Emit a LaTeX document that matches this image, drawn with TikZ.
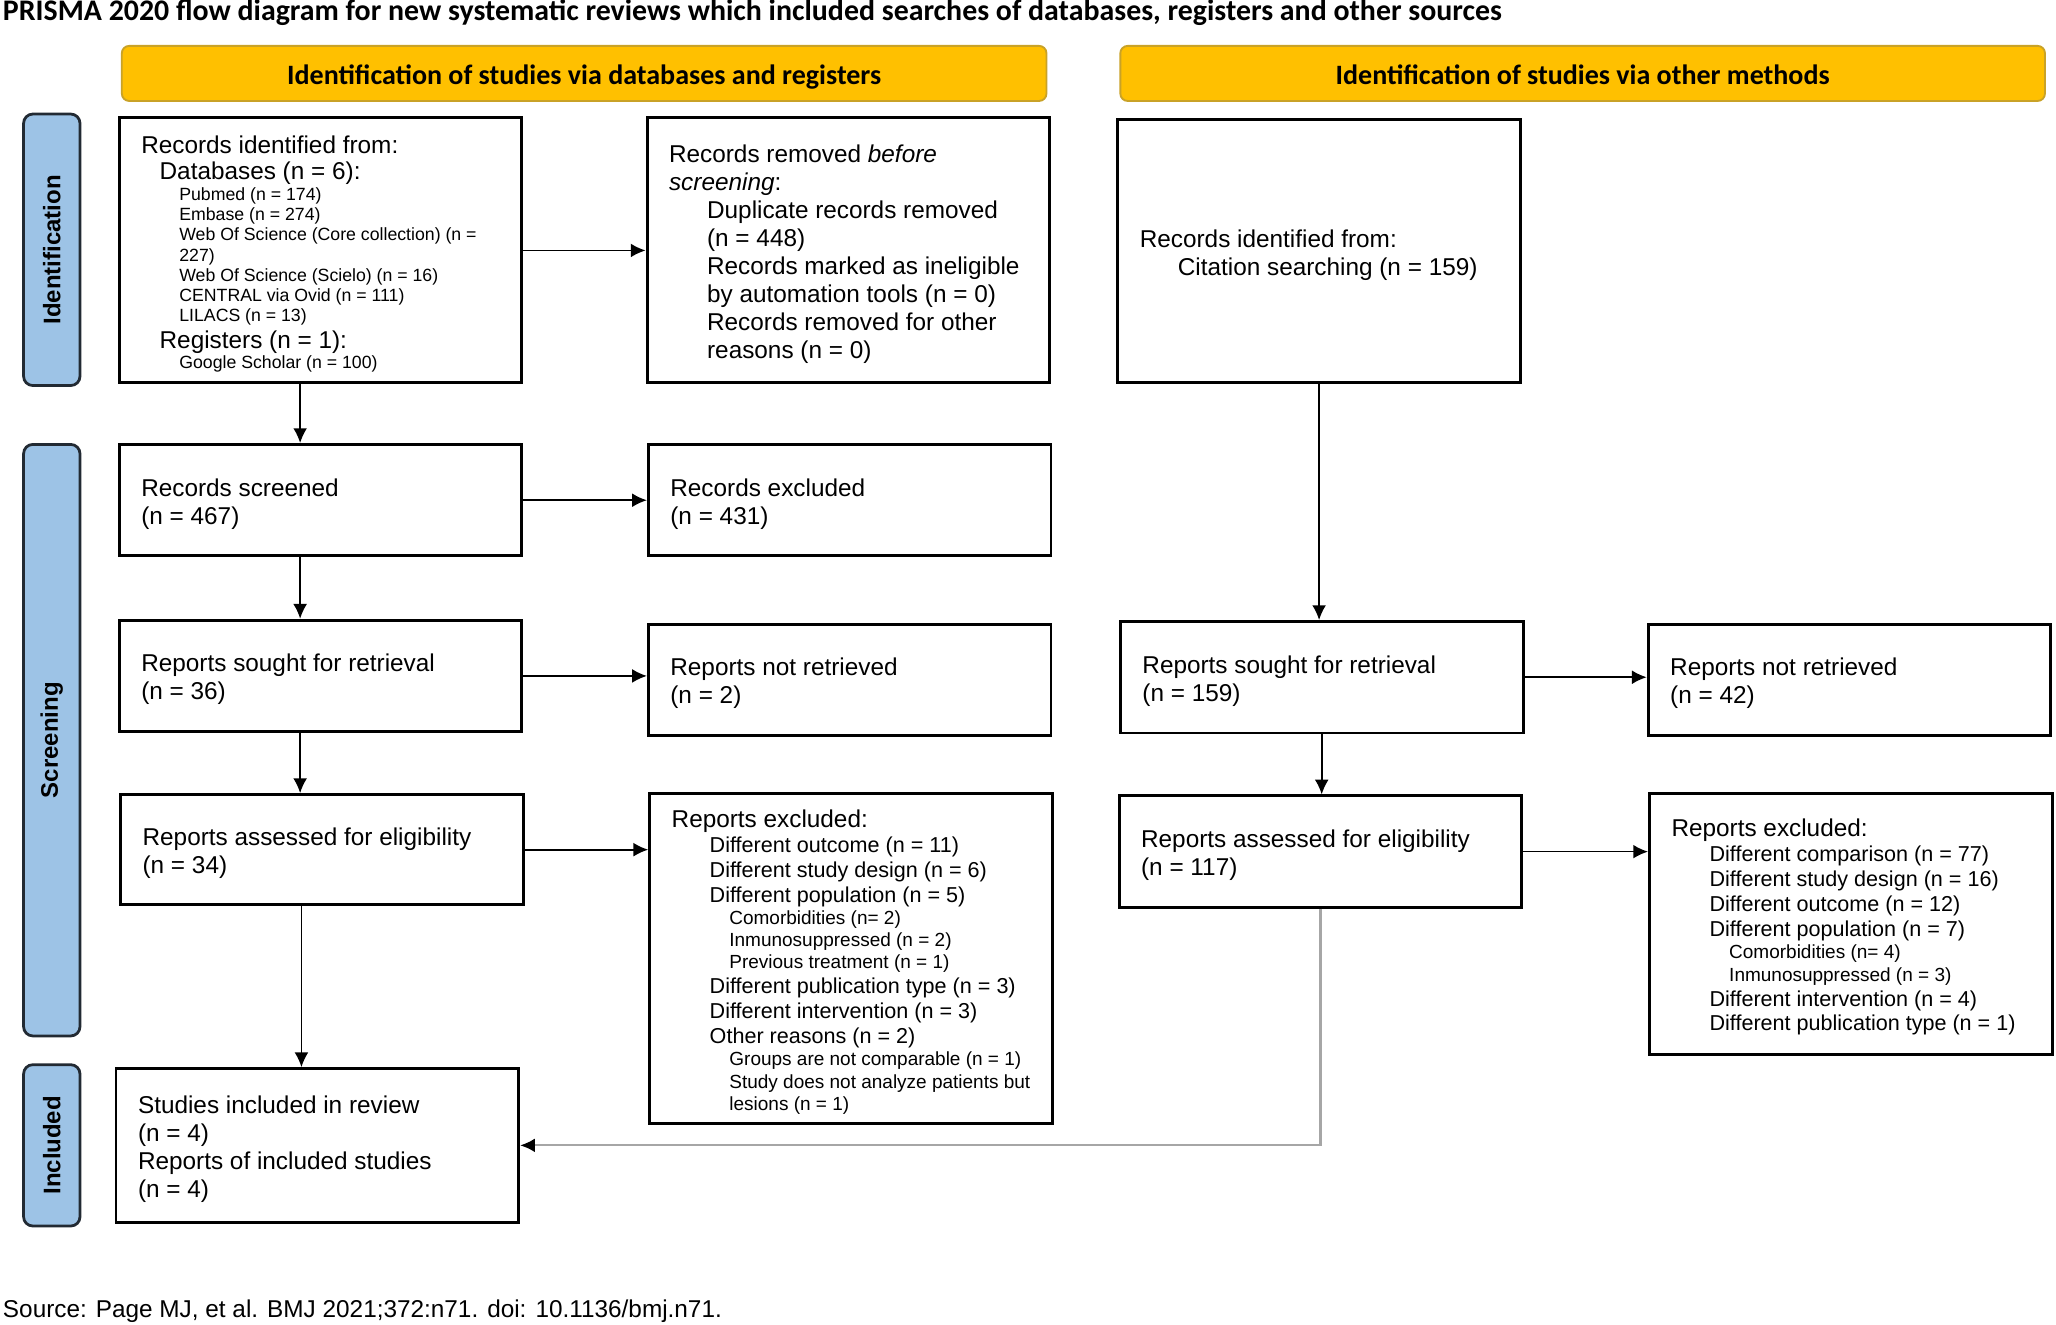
\documentclass[tikz,border=0pt]{standalone}
\usepackage{fontspec}
\setmainfont{Liberation Sans}
\newfontfamily\calibri{Carlito}
\usepackage{xcolor}
\usetikzlibrary{arrows.meta, calc, positioning}
\definecolor{headyellow}{HTML}{FFC000}
\definecolor{headedge}{HTML}{C9A227}
\definecolor{sideblue}{HTML}{9DC3E6}
\definecolor{sideedge}{HTML}{222A33}
\newcommand{\mainsz}{\fontsize{13.2}{15.2}\selectfont}
\newcommand{\itemsz}{\fontsize{11.7}{13.5}\selectfont}
\newcommand{\subsz}{\fontsize{10.3}{12.1}\selectfont}
\newcommand{\smallsz}{\fontsize{9.6}{11}\selectfont}

\begin{document}
\begin{tikzpicture}[x=0.025cm, y=-0.025cm]
				\tikzset{arrow/.style={-{Latex[length=8pt,width=7.5pt]}, line width=0.9pt}}
				\tikzset{box/.style={draw, line width=1.6pt, minimum width=7.675cm, text width=6.835cm, inner xsep=0.42cm, inner ysep=0pt, align=flush left, font=\mainsz, execute at begin node={\rule{0pt}{13.5pt}}}}
				\tikzset{head/.style={draw=headedge, fill=headyellow, line width=1pt, rounded corners=4pt, minimum width=17.625cm, minimum height=1.05cm, text height=14.5pt, text depth=3pt, font=\calibri\bfseries\fontsize{15.2}{17}\selectfont}}
				\tikzset{side/.style={draw=sideedge, fill=sideblue, line width=1.5pt, rounded corners=5pt, rotate=90, minimum height=1.075cm, font=\bfseries\fontsize{13}{15}\selectfont}}

				\useasboundingbox (0,0) rectangle (1568,1009.8);

				\node (title) [anchor=base west, inner sep=0pt, font=\calibri\bfseries\fontsize{16.2}{18}\selectfont] at (2,16) {PRISMA 2020 flow diagram for new systematic reviews which included searches of databases, registers and other sources};

				% column headers and phase bars
				\node (headDB) [head] at (445.5,56) {Identification of studies via databases and registers};
				\node (headOth) [head] at (1207,56) {Identification of studies via other methods};
				\node (sideId) [side, minimum width=5.175cm] at (39.5,190.5) {Identification};
				\node (sideScr) [side, minimum width=11.275cm] at (39.5,564.5) {Screening};
				\node (sideInc) [side, minimum width=3.075cm] at (39.5,873.5) {Included};

				% databases and registers
				\node (idRec) [box, minimum height=5.05cm] at (244.5,191) {\fontsize{13.2}{14.2}\selectfont Records identified from:\par
					{\leftskip=0.35cm Databases (n = 6):\par}
					{\smallsz\leftskip=0.725cm Pubmed (n = 174)\par Embase (n = 274)\par Web Of Science (Core collection) (n =\newline 227)\par Web Of Science (Scielo) (n = 16)\par CENTRAL via Ovid (n = 111)\par LILACS (n = 13)\par}
					{\leftskip=0.35cm Registers (n = 1):\par}
					{\smallsz\leftskip=0.725cm Google Scholar (n = 100)\par}};
				\node (idRem) [box, minimum height=5.05cm] at (647,191) {Records removed \textit{before}\newline \textit{screening}:\par
					{\leftskip=0.725cm Duplicate records removed\newline (n = 448)\newline Records marked as ineligible\newline by automation tools (n = 0)\newline Records removed for other\newline reasons (n = 0)\par}};
				\node (scr) [box, minimum height=2.125cm] at (244.5,381.5) {Records screened\newline (n = 467)};
				\node (scrEx) [box, minimum height=2.125cm] at (648,381.5) {Records excluded\newline (n = 431)};
				\node (sought) [box, minimum height=2.125cm] at (244.5,515.5) {Reports sought for retrieval\newline (n = 36)};
				\node (notRet) [box, minimum height=2.125cm] at (648,518.5) {Reports not retrieved\newline (n = 2)};
				\node (assess) [box, minimum height=2.1cm] at (245.5,648) {Reports assessed for eligibility\newline (n = 34)};
				\node (repEx) [box, minimum height=6.3cm] at (649,731) {Reports excluded:\par
					{\itemsz\leftskip=0.725cm Different outcome (n = 11)\par Different study design (n = 6)\par Different population (n = 5)\par}
					{\subsz\leftskip=1.1cm Comorbidities (n= 2)\par Inmunosuppressed (n = 2)\par Previous treatment (n = 1)\par}
					{\itemsz\leftskip=0.725cm Different publication type (n = 3)\par Different intervention (n = 3)\par Other reasons (n = 2)\par}
					{\subsz\leftskip=1.1cm Groups are not comparable (n = 1)\par Study does not analyze patients but\newline lesions (n = 1)\par}};
				\node (incl) [box, minimum height=2.925cm] at (242,873.5) {Studies included in review\newline (n = 4)\newline Reports of included studies\newline (n = 4)};

				% other methods
				\node (othRec) [box, minimum height=5.025cm] at (1006,191.5) {Records identified from:\par
					{\leftskip=0.725cm Citation searching (n = 159)\par}};
				\node (othSought) [box, minimum height=2.125cm] at (1008,516.5) {Reports sought for retrieval\newline (n = 159)};
				\node (othNotRet) [box, minimum height=2.125cm] at (1410.5,518.5) {Reports not retrieved\newline (n = 42)};
				\node (othAssess) [box, minimum height=2.125cm] at (1007,649.5) {Reports assessed for eligibility\newline (n = 117)};
				\node (othEx) [box, minimum height=4.975cm] at (1411.5,704.5) {Reports excluded:\par
					{\itemsz\leftskip=0.725cm Different comparison (n = 77)\par Different study design (n = 16)\par Different outcome (n = 12)\par Different population (n = 7)\par}
					{\subsz\leftskip=1.1cm Comorbidities (n= 4)\par Inmunosuppressed (n = 3)\par}
					{\itemsz\leftskip=0.725cm Different intervention (n = 4)\par Different publication type (n = 1)\par}};

				% connectors
				\draw[arrow] (idRec) -- (idRem);
				\draw[arrow] ([xshift=-0.39cm]idRec.south) -- ([xshift=-0.39cm]scr.north);
				\draw[arrow] (scr) -- (scrEx);
				\draw[arrow] ([xshift=-0.39cm]scr.south) -- ([xshift=-0.39cm]sought.north);
				\draw[arrow] (sought.east) -- (sought.east -| notRet.west);
				\draw[arrow] ([xshift=-0.39cm]sought.south) -- ([xshift=-0.39cm]sought.south |- assess.north);
				\draw[arrow] (assess.east) -- (assess.east -| repEx.west);
				\draw[arrow] ([xshift=-0.39cm]assess.south) -- ([xshift=-0.39cm]assess.south |- incl.north);
				\draw[arrow] (othRec.south) -- (othRec.south |- othSought.north);
				\draw[arrow] (othSought.east) -- (othSought.east -| othNotRet.west);
				\draw[arrow] (othSought.south) -- (othSought.south |- othAssess.north);
				\draw[arrow] (othAssess.east) -- (othAssess.east -| othEx.west);
				\draw[arrow, gray!70, -{Latex[length=8pt,width=7.5pt,black]}, line width=1.2pt] (othAssess.south) |- (incl.east);

				\node (source) [anchor=base west, inner sep=0pt, font=\mainsz] at (2,1005) {Source: Page MJ, et al. BMJ 2021;372:n71. doi: 10.1136/bmj.n71.};
			\end{tikzpicture}
\end{document}
